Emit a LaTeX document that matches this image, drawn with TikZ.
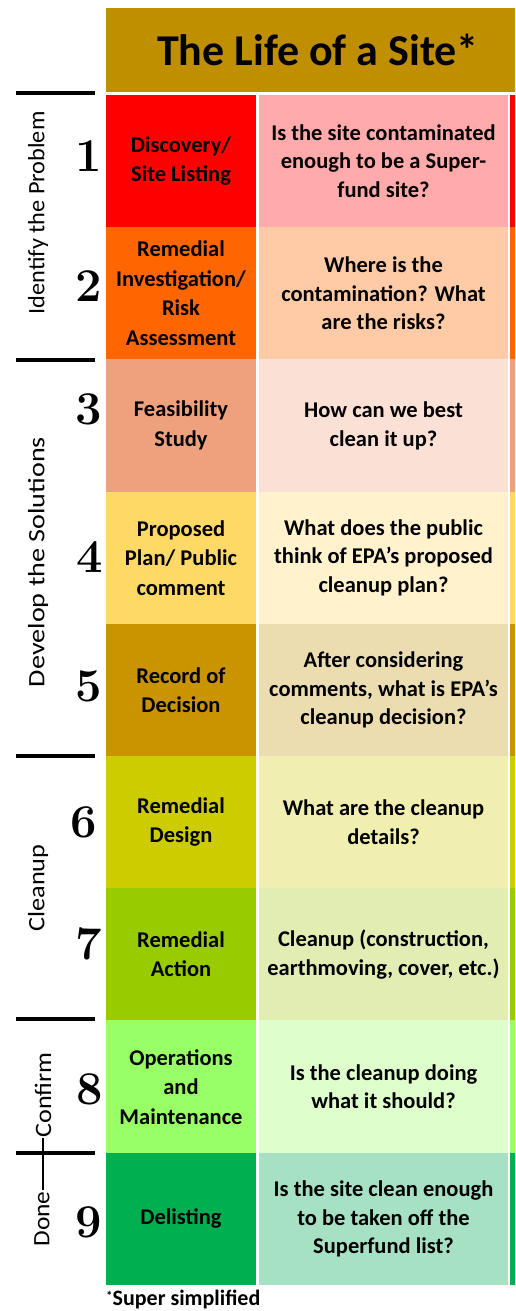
\documentclass[tikz,border=0pt]{standalone}
\usepackage{fontspec}
\newfontfamily\calfont{Carlito}

% stage colours: strong tone (first column, right edge) and pale tone (question column)
\definecolor{hdr}{HTML}{BF8F00}
\definecolor{a1}{HTML}{FF0000}\definecolor{b1}{HTML}{FFABAB}
\definecolor{a2}{HTML}{FF6600}\definecolor{b2}{HTML}{FFCBA6}
\definecolor{a3}{HTML}{EFA07C}\definecolor{b3}{HTML}{FBE0D5}
\definecolor{a4}{HTML}{FFD966}\definecolor{b4}{HTML}{FFF2CC}
\definecolor{a5}{HTML}{C99400}\definecolor{b5}{HTML}{ECDDB1}
\definecolor{a6}{HTML}{CCCC00}\definecolor{b6}{HTML}{F1EFB0}
\definecolor{a7}{HTML}{99CC00}\definecolor{b7}{HTML}{E1EDB3}
\definecolor{a8}{HTML}{99FF66}\definecolor{b8}{HTML}{DEFFCC}
\definecolor{a9}{HTML}{00B050}\definecolor{b9}{HTML}{A6E1C4}

\tikzset{
  title/.style={fill=hdr, minimum width=420pt, minimum height=84pt, inner sep=0pt},
  titletext/.style={inner sep=0pt, font=\calfont\bfseries\fontsize{44}{44}\selectfont},
  stage/.style={minimum width=150pt, minimum height=132.6pt, inner sep=0pt, align=center,
    font=\calfont\bfseries\fontsize{22.5}{29.5}\selectfont},
  question/.style={minimum width=249pt, minimum height=132.6pt, inner sep=0pt, align=center,
    font=\calfont\bfseries\fontsize{22.5}{28.7}\selectfont},
  edgecell/.style={minimum width=12pt, minimum height=132.6pt, inner sep=0pt},
  numeral/.style={inner sep=0pt, font=\bfseries\fontsize{47}{47}\selectfont},
  phase/.style={rotate=90, inner sep=0pt, font=\calfont\fontsize{23.5}{23.5}\selectfont},
  divider/.style={line width=3.6pt},
  tick/.style={line width=1.6pt},
}

\begin{document}
\begin{tikzpicture}[x=1pt, y=-1pt]
\useasboundingbox (0,0) rectangle (515,1311);
\clip (0,0) rectangle (515,1311);

% header
\node[title] (head) at (316,50) {};
\node[titletext] (headtxt) at (318,50) {The Life of a Site*};

% stage column
\node[stage, fill=a1] (s1) at (181,161.1) {Discovery/\\Site Listing};
\node[stage, fill=a2] (s2) at (181,293.3) {Remedial\\Investigation/\\Risk\\Assessment};
\node[stage, fill=a3] (s3) at (181,425.6) {Feasibility\\Study};
\node[stage, fill=a4] (s4) at (181,557.8) {Proposed\\Plan/ Public\\comment};
\node[stage, fill=a5] (s5) at (181,690.0) {Record of\\Decision};
\node[stage, fill=a6] (s6) at (181,822.2) {Remedial\\Design};
\node[stage, fill=a7] (s7) at (181,954.4) {Remedial\\Action};
\node[stage, fill=a8] (s8) at (181,1086.7) {Operations\\and\\Maintenance};
\node[stage, fill=a9] (s9) at (181,1218.9) {Delisting};

% question column
\node[question, fill=b1] (q1) at (383.5,161.1) {Is the site contaminated\\enough to be a Super-\\fund site?};
\node[question, fill=b2] (q2) at (383.5,293.3) {Where is the\\contamination? What\\are the risks?};
\node[question, fill=b3] (q3) at (383.5,425.6) {How can we best\\clean it up?};
\node[question, fill=b4] (q4) at (383.5,557.8) {What does the public\\think of EPA’s proposed\\cleanup plan?};
\node[question, fill=b5] (q5) at (383.5,690.0) {After considering\\comments, what is EPA’s\\cleanup decision?};
\node[question, fill=b6] (q6) at (383.5,822.2) {What are the cleanup\\details?};
\node[question, fill=b7] (q7) at (383.5,954.4) {Cleanup (construction,\\earthmoving, cover, etc.)};
\node[question, fill=b8] (q8) at (383.5,1086.7) {Is the cleanup doing\\what it should?};
\node[question, fill=b9] (q9) at (383.5,1218.9) {Is the site clean enough\\to be taken off the\\Superfund list?};

% right-hand colour strip
\node[edgecell, fill=a1] (e1) at (516,161.1) {};
\node[edgecell, fill=a2] (e2) at (516,293.3) {};
\node[edgecell, fill=a3] (e3) at (516,425.6) {};
\node[edgecell, fill=a4] (e4) at (516,557.8) {};
\node[edgecell, fill=a5] (e5) at (516,690.0) {};
\node[edgecell, fill=a6] (e6) at (516,822.2) {};
\node[edgecell, fill=a7] (e7) at (516,954.4) {};
\node[edgecell, fill=a8] (e8) at (516,1086.7) {};
\node[edgecell, fill=a9] (e9) at (516,1218.9) {};

% step numbers
\node[numeral] (n1) at (89,156) {1};
\node[numeral] (n2) at (89,286) {2};
\node[numeral] (n3) at (89,409) {3};
\node[numeral] (n4) at (90,557) {4};
\node[numeral] (n5) at (89,686) {5};
\node[numeral] (n6) at (84,822) {6};
\node[numeral] (n7) at (89,944) {7};
\node[numeral] (n8) at (90,1089) {8};
\node[numeral] (n9) at (89,1222) {9};

% phase labels
\node[phase] (pid) at (38,213) {\resizebox{203pt}{\height}{Identify the Problem}};
\node[phase] (pdev) at (38,562) {\resizebox{250pt}{\height}{Develop the Solutions}};
\node[phase] (pcln) at (38,888) {\resizebox{87pt}{\height}{Cleanup}};
\node[phase] (pcnf) at (43,1095) {\resizebox{85pt}{\height}{Confirm}};
\node[phase] (pdone) at (42,1219) {\resizebox{55pt}{\height}{Done}};

% phase dividers
\foreach \y in {93,360,756,1019,1153}
  \draw[divider] (16,\y) -- (95,\y);
\coordinate (tickA) at (43,1138);
\coordinate (tickB) at (43,1190);
\draw[tick] (tickA) -- (tickB);

% footnote
\node[anchor=west, inner sep=0pt, font=\calfont\bfseries\fontsize{22}{22}\selectfont] (foot) at (106,1299)
  {\raisebox{0.45ex}{\fontsize{13}{13}\selectfont*}Super simplified};
\end{tikzpicture}
\end{document}
